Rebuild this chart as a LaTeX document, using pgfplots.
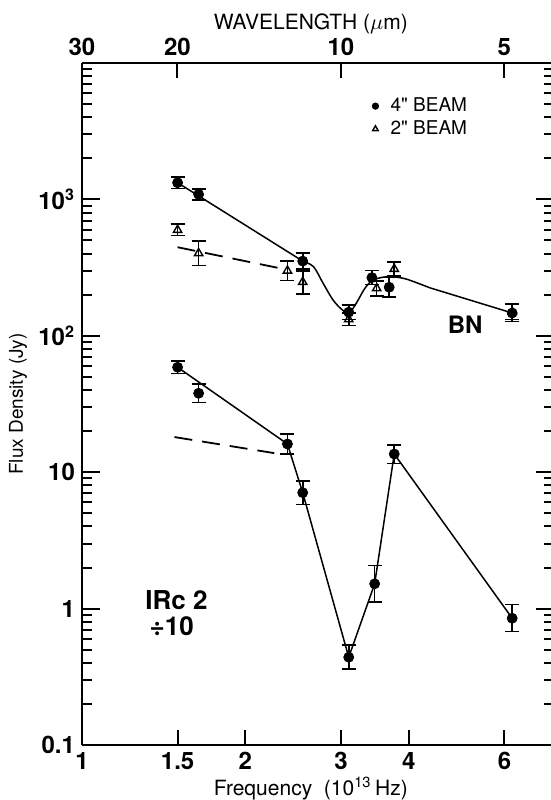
\documentclass[border=0pt]{standalone}
\usepackage{pgfplots}
\usepackage{pgfplotstable}
\pgfplotsset{compat=1.18}
\usepackage{fontspec}
\setmainfont{TeX Gyre Heros}

\pgfplotstableread{
x y ep em
1.50 1325 130 125
1.64 1089 100 95
2.55 353 50 45
3.10 149 19 17
3.42 267 35 30
3.68 227 40 35
6.20 147 25 20
}\bnfour
\pgfplotstableread{
x y ep em
1.50 597 60 55
1.64 403 90 75
2.39 300 55 45
2.55 248 50 45
3.10 132 15 13
3.49 223 30 27
3.76 309 40 35
6.20 150 20 18
}\bntwo
\pgfplotstableread{
x y ep em
1.50 58.8 6.5 6
1.64 37.9 6.5 5.5
2.39 16.1 3 2.5
2.55 7.08 1.5 1.3
3.10 0.44 0.1 0.08
3.46 1.52 0.55 0.4
3.76 13.6 2.3 2
6.20 0.85 0.22 0.17
}\irc

\begin{document}
\begin{tikzpicture}
% bottom axis
\begin{axis}[scale only axis, width=234.5pt, height=341pt,
  xmode=log, ymode=log, xmin=1, xmax=7.31, ymin=0.1, ymax=10000,
  tick align=inside,
  axis line style={line width=1.2pt, black},
  tick style={black, line width=1pt},
  tick label style={font=\fontsize{12}{14}\selectfont\bfseries},
  axis x line*=bottom, axis y line=none,
  xtick={1,1.5,2,3,4,6}, xticklabels={1,1.5,2,3,4,6},
  minor xtick={},
  major tick length=7.5pt,
  xlabel={Frequency\ \ (10\textsuperscript{13}\,Hz)},
  xlabel style={at={(rel axis cs:0.488,0)}, anchor=base, yshift=-25pt,
    font=\fontsize{10.5}{12}\selectfont},
]
\end{axis}
% top / right axis
\begin{axis}[scale only axis, width=234.5pt, height=341pt,
  xmode=log, ymode=log, xmin=1, xmax=7.31, ymin=0.1, ymax=10000,
  tick align=inside,
  axis line style={line width=1.2pt, black},
  tick style={black, line width=1pt},
  tick label style={font=\fontsize{12}{14}\selectfont\bfseries},
  axis x line*=top, axis y line*=right, y axis line style={draw=none},
  xtick={1,1.499,2.998,5.996}, xticklabels={30,20,10,5},
  minor xtick={},
  ytick={0.1,1,10,100,1000,10000}, yticklabels={},
  major tick length=7.5pt, minor tick length=3.5pt,
  xlabel={WAVELENGTH ($\mu$m)},
  xlabel style={at={(rel axis cs:0.488,1)}, anchor=base, yshift=16.5pt,
    font=\fontsize{10.5}{12}\selectfont},
]
\end{axis}
% main axis with data
\begin{axis}[scale only axis, width=234.5pt, height=341pt,
  xmode=log, ymode=log, xmin=1, xmax=7.31, ymin=0.1, ymax=10000,
  tick align=inside,
  axis line style={line width=1.2pt, black},
  tick style={black, line width=1pt},
  tick label style={font=\fontsize{12}{14}\selectfont\bfseries},
  axis y line*=left, axis x line=none,
  ytick={0.1,1,10,100,1000},
  yticklabels={0.1,1,10,10\textsuperscript{2},10\textsuperscript{3}},
  minor ytick={0.2,0.3,0.4,0.5,0.6,0.7,0.8,0.9,2,3,4,5,6,7,8,9,20,30,40,50,60,70,80,90,200,300,400,500,600,700,800,900,2000,3000,4000,5000,6000,7000,8000,9000},
  major tick length=9pt, minor tick length=5pt,
  ylabel={Flux Density (Jy)},
  ylabel style={at={(rel axis cs:-0.1365,0.5)}, anchor=center,
    font=\fontsize{9.5}{11}\selectfont},
  legend style={draw=none, fill=none, at={(rel axis cs:0.618,0.92)}, anchor=west,
    font=\fontsize{9.5}{11}\selectfont, row sep=-1pt, inner sep=0pt},
  legend cell align=left,
  legend image post style={mark size=1.6pt},
]
\addplot[only marks, mark=*, mark size=2.5pt, black,
  error bars/.cd, y dir=both, y explicit,
  error bar style={line width=0.8pt, black},
  error mark options={rotate=90, mark size=3.5pt, line width=0.8pt, black}]
  table[x=x, y=y, y error plus=ep, y error minus=em] {\bnfour};
\addlegendentry{\hspace{4pt}4\textquotedbl\ BEAM}
\addplot[only marks, mark=triangle, mark size=2.4pt, black, mark options={fill=white, line width=0.7pt},
  error bars/.cd, y dir=both, y explicit,
  error bar style={line width=0.8pt, black},
  error mark options={rotate=90, mark size=3.5pt, line width=0.8pt, black}]
  table[x=x, y=y, y error plus=ep, y error minus=em] {\bntwo};
\addlegendentry{\hspace{4pt}2\textquotedbl\ BEAM}
\addplot[only marks, mark=*, mark size=2.5pt, black, forget plot,
  error bars/.cd, y dir=both, y explicit,
  error bar style={line width=0.8pt, black},
  error mark options={rotate=90, mark size=3.5pt, line width=0.8pt, black}]
  table[x=x, y=y, y error plus=ep, y error minus=em] {\irc};
% guide lines BN
\addplot[black, line width=0.75pt, forget plot] coordinates {(1.5,1325) (2.55,353)};
\addplot[black, line width=0.75pt, smooth, tension=0.5, forget plot] coordinates {
 (2.55,353) (2.67,321) (2.78,243) (2.90,183) (3.01,156) (3.10,146) (3.20,173)
 (3.32,223) (3.44,256) (3.64,271) (3.91,264) (4.19,240) (4.37,225)};
\addplot[black, line width=0.75pt, forget plot] coordinates {(4.37,225) (6.2,147)};
\addplot[black, line width=0.9pt, dash pattern=on 9pt off 5pt, forget plot] coordinates {(1.5,446) (2.35,309)};
% guide lines IRc2
\addplot[black, line width=0.75pt, forget plot] coordinates {
 (1.5,58.8) (2.39,16.1) (2.55,7.08) (3.10,0.44) (3.46,1.52) (3.76,13.6) (6.2,0.85)};
\addplot[black, line width=0.9pt, dash pattern=on 9pt off 5pt, forget plot] coordinates {(1.48,18.1) (2.26,13.8)};
\node[font=\fontsize{12}{13}\selectfont\bfseries] at (rel axis cs:0.817,0.616) {BN};
\node[font=\fontsize{13}{14}\selectfont\bfseries, align=left, anchor=west] at (rel axis cs:0.12,0.193) {IRc 2\\[-1pt]\,÷10};
\end{axis}
\pgfresetboundingbox
\path (-41pt,-27.5pt) rectangle (234.5pt,372.5pt);
\end{tikzpicture}
\end{document}
